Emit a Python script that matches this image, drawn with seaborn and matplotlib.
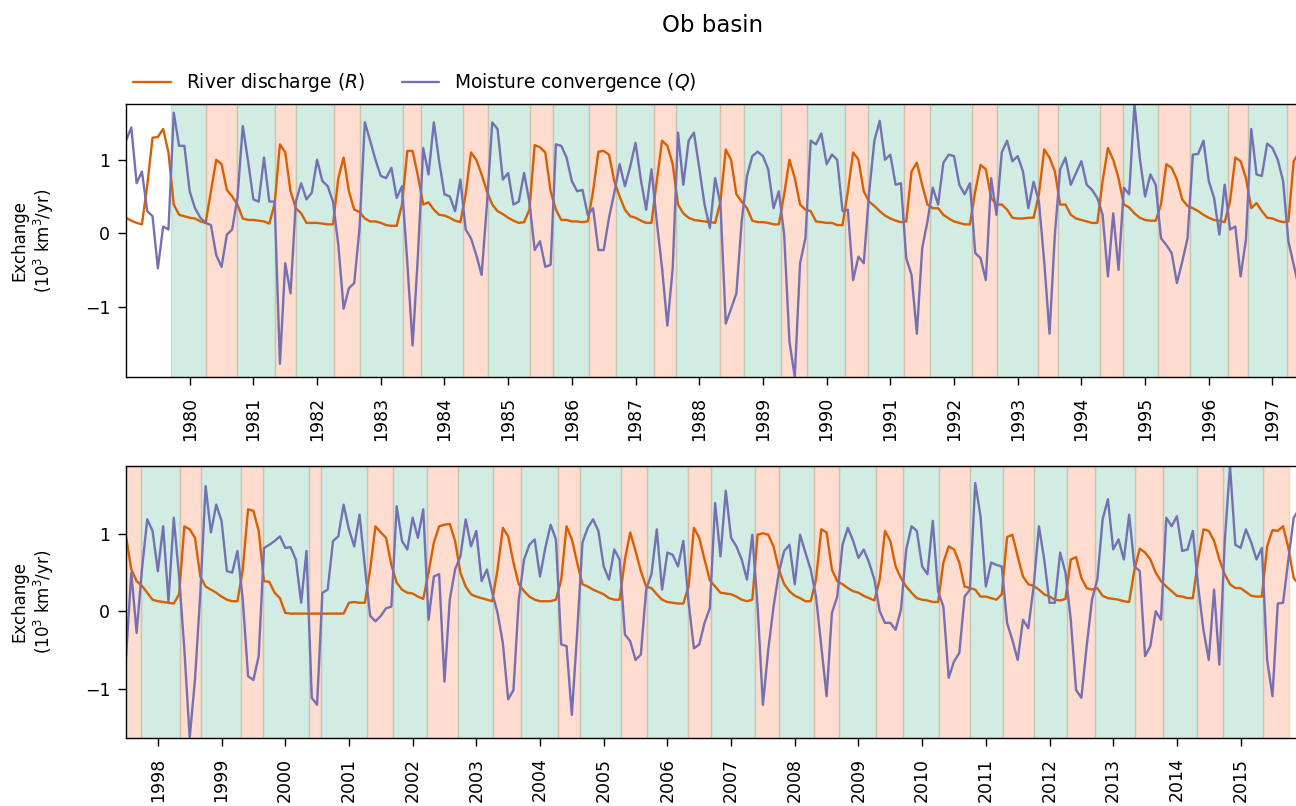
import numpy as np
import pandas as pd
import matplotlib
matplotlib.use("Agg")
import matplotlib.pyplot as plt
from matplotlib.lines import Line2D
import seaborn as sns

# Monthly series for the Ob basin, starting January 1979 (10^3 km^3/yr)
START_YEAR = 1979

discharge_1979_1997 = [
    0.21, 0.17, 0.14, 0.12, 0.65, 1.30, 1.31, 1.42, 1.10, 0.39, 0.25, 0.23,
    0.21, 0.20, 0.16, 0.14, 0.57, 1.00, 0.94, 0.59, 0.50, 0.39, 0.20, 0.18,
    0.18, 0.17, 0.16, 0.13, 0.40, 1.21, 1.10, 0.57, 0.34, 0.27, 0.14, 0.14,
    0.14, 0.13, 0.12, 0.12, 0.75, 1.03, 0.57, 0.32, 0.29, 0.20, 0.16, 0.16,
    0.14, 0.11, 0.10, 0.10, 0.39, 1.12, 1.12, 0.78, 0.39, 0.42, 0.32, 0.25,
    0.24, 0.21, 0.17, 0.15, 0.53, 1.10, 1.00, 0.80, 0.57, 0.39, 0.30, 0.26,
    0.21, 0.17, 0.14, 0.15, 0.32, 1.20, 1.17, 1.10, 0.57, 0.32, 0.18, 0.18,
    0.16, 0.16, 0.15, 0.16, 0.57, 1.11, 1.12, 1.07, 0.71, 0.50, 0.32, 0.23,
    0.21, 0.17, 0.14, 0.14, 0.71, 1.26, 1.19, 0.94, 0.39, 0.27, 0.21, 0.18,
    0.17, 0.16, 0.15, 0.14, 0.43, 1.14, 1.00, 0.53, 0.43, 0.34, 0.17, 0.15,
    0.15, 0.14, 0.12, 0.12, 0.53, 1.00, 0.75, 0.39, 0.32, 0.30, 0.16, 0.15,
    0.14, 0.14, 0.11, 0.11, 0.57, 1.10, 1.00, 0.57, 0.43, 0.37, 0.30, 0.24,
    0.20, 0.17, 0.15, 0.16, 0.84, 0.96, 0.66, 0.39, 0.34, 0.34, 0.25, 0.20,
    0.16, 0.14, 0.12, 0.12, 0.57, 0.93, 0.87, 0.48, 0.39, 0.39, 0.32, 0.21,
    0.20, 0.20, 0.21, 0.21, 0.53, 1.14, 1.03, 0.84, 0.39, 0.39, 0.25, 0.20,
    0.18, 0.16, 0.14, 0.14, 0.71, 1.16, 1.00, 0.75, 0.39, 0.35, 0.27, 0.21,
    0.18, 0.17, 0.17, 0.39, 0.94, 0.89, 0.73, 0.46, 0.37, 0.34, 0.30, 0.25,
    0.21, 0.18, 0.17, 0.15, 0.43, 1.03, 0.98, 0.75, 0.34, 0.41, 0.30, 0.21,
    0.20, 0.17, 0.15, 0.16, 0.98, 1.10,
]

discharge_1997_2015 = [
    0.97, 0.54, 0.39, 0.33, 0.24, 0.15,
    0.13, 0.12, 0.11, 0.10, 0.22, 1.10, 1.06, 0.95, 0.45, 0.32, 0.28, 0.24,
    0.19, 0.15, 0.13, 0.13, 0.54, 1.32, 1.30, 1.04, 0.39, 0.38, 0.24, 0.17,
    -0.02, -0.03, -0.03, -0.03, -0.03, -0.03, -0.03, -0.03, -0.03, -0.03, -0.03, -0.03,
    0.11, 0.12, 0.11, 0.11, 0.54, 1.10, 1.02, 0.95, 0.60, 0.37, 0.28, 0.24,
    0.23, 0.19, 0.16, 0.50, 0.89, 1.10, 1.12, 1.13, 0.91, 0.50, 0.32, 0.22,
    0.19, 0.17, 0.15, 0.13, 0.54, 1.08, 0.97, 0.63, 0.35, 0.26, 0.19, 0.15,
    0.13, 0.13, 0.13, 0.15, 0.41, 1.10, 0.93, 0.63, 0.35, 0.32, 0.28, 0.25,
    0.22, 0.17, 0.15, 0.15, 0.67, 1.02, 0.78, 0.52, 0.32, 0.30, 0.22, 0.15,
    0.12, 0.11, 0.10, 0.10, 0.32, 1.08, 0.95, 0.67, 0.40, 0.32, 0.24, 0.23,
    0.22, 0.19, 0.15, 0.13, 0.15, 0.99, 1.01, 0.99, 0.84, 0.54, 0.35, 0.26,
    0.20, 0.17, 0.13, 0.13, 0.41, 1.06, 1.02, 0.54, 0.39, 0.35, 0.30, 0.26,
    0.24, 0.20, 0.17, 0.14, 0.41, 1.04, 0.91, 0.58, 0.43, 0.32, 0.24, 0.17,
    0.15, 0.14, 0.12, 0.12, 0.63, 0.84, 0.80, 0.63, 0.32, 0.30, 0.28, 0.19,
    0.19, 0.17, 0.15, 0.22, 0.96, 0.99, 0.71, 0.45, 0.35, 0.33, 0.28, 0.22,
    0.19, 0.15, 0.14, 0.16, 0.67, 0.70, 0.43, 0.30, 0.28, 0.30, 0.20, 0.17,
    0.16, 0.15, 0.13, 0.12, 0.54, 0.81, 0.76, 0.67, 0.50, 0.39, 0.32, 0.26,
    0.20, 0.19, 0.17, 0.17, 0.67, 1.06, 1.04, 0.91, 0.67, 0.48, 0.35, 0.30,
    0.30, 0.25, 0.20, 0.19, 0.19, 0.84, 1.05, 1.04, 1.10, 0.82, 0.43, 0.35,
]

convergence_1979_1997 = [
    1.26, 1.44, 0.68, 0.84, 0.30, 0.23, -0.48, 0.09, 0.05, 1.64, 1.19, 1.19,
    0.57, 0.34, 0.21, 0.14, 0.11, -0.30, -0.46, -0.02, 0.05, 0.48, 1.46, 0.98,
    0.46, 0.43, 1.03, 0.43, 0.43, -1.78, -0.41, -0.82, 0.43, 0.68, 0.46, 0.55,
    1.00, 0.71, 0.64, 0.43, -0.16, -1.03, -0.75, -0.68, 0.07, 1.51, 1.26, 1.00,
    0.78, 0.75, 0.89, 0.48, 0.64, -0.40, -1.53, -0.30, 1.16, 0.80, 1.51, 0.98,
    0.53, 0.50, 0.30, 0.73, 0.05, -0.07, -0.30, -0.57, 0.39, 1.51, 1.42, 0.73,
    0.82, 0.39, 0.43, 0.82, 0.43, -0.23, -0.11, -0.46, -0.43, 1.21, 1.19, 1.03,
    0.71, 0.57, 0.59, 0.25, 0.34, -0.23, -0.23, 0.21, 0.55, 0.94, 0.64, 0.91,
    1.23, 0.73, 0.32, 0.87, 0.16, -0.48, -1.26, -0.48, 1.37, 0.66, 1.26, 1.37,
    0.89, 0.39, 0.07, 0.75, 0.39, -1.23, -1.03, -0.82, 0.16, 0.78, 1.05, 1.11,
    1.05, 0.87, 0.34, 0.57, -0.02, -1.48, -1.96, -0.41, -0.07, 1.26, 1.21, 1.36,
    0.94, 1.07, 1.00, 0.30, 0.32, -0.64, -0.32, -0.41, 0.55, 1.26, 1.53, 1.00,
    1.07, 0.66, 0.68, -0.34, -0.57, -1.37, -0.21, 0.16, 0.62, 0.39, 0.96, 1.07,
    1.05, 0.66, 0.53, 0.68, -0.27, -0.34, -0.64, 0.75, 0.25, 1.10, 1.26, 0.98,
    1.05, 0.84, 0.34, 0.70, 0.43, -0.39, -1.37, -0.02, 0.87, 1.03, 0.66, 0.82,
    0.98, 0.66, 0.59, 0.48, 0.25, -0.59, 0.27, -0.50, 0.62, 0.53, 1.76, 1.03,
    0.50, 0.80, 0.66, -0.07, -0.16, -0.27, -0.68, -0.39, -0.07, 1.07, 1.08, 1.26,
    0.71, 0.48, -0.02, 0.66, 0.05, 0.09, -0.59, -0.09, 1.42, 0.80, 0.78, 1.22,
    1.16, 1.00, 0.71, -0.11, -0.43, -0.75,
]

convergence_1997_2015 = [
    -0.60, 0.50, -0.28, 0.54, 1.19, 1.04,
    0.52, 1.10, 0.13, 1.21, 0.45, -0.50, -1.64, -0.88, 0.23, 1.62, 1.02, 1.38,
    1.17, 0.52, 0.50, 0.78, 0.15, -0.84, -0.89, -0.58, 0.82, 0.86, 0.91, 0.97,
    0.82, 0.83, 0.67, 0.11, 0.78, -1.12, -1.21, 0.24, 0.28, 0.91, 0.97, 1.38,
    1.06, 0.84, 1.25, 0.58, -0.06, -0.13, -0.06, 0.04, 0.06, 1.36, 0.91, 0.80,
    1.21, 0.95, 1.32, -0.11, 0.45, 0.48, -0.91, 0.15, 0.54, 0.71, 1.19, 0.84,
    1.04, 0.39, 0.54, 0.24, -0.02, -0.41, -1.14, -1.02, 0.15, 0.67, 0.86, 0.93,
    0.45, 0.82, 1.12, 0.93, -0.43, -0.45, -1.34, -0.28, 0.89, 1.08, 1.19, 1.04,
    0.58, 0.41, 0.80, 0.67, -0.30, -0.39, -0.63, -0.56, 0.28, 0.48, 1.06, 0.28,
    0.76, 0.73, 0.58, 0.91, 0.11, -0.48, -0.43, -0.15, 0.04, 1.40, 0.71, 1.56,
    0.95, 0.84, 0.67, 0.41, 0.99, 0.06, -1.21, -0.50, 0.06, 0.50, 0.78, 0.86,
    0.35, 0.99, 0.76, 0.54, 0.19, -0.45, -1.10, -0.02, 0.19, 0.86, 1.08, 0.91,
    0.69, 0.80, 0.63, 0.41, 0.00, -0.15, -0.15, -0.24, 0.02, 0.80, 1.10, 1.04,
    0.58, 0.48, 1.17, 0.26, 0.06, -0.86, -0.65, -0.54, 0.19, 0.28, 1.66, 1.23,
    0.32, 0.63, 0.60, 0.58, -0.15, -0.37, -0.63, -0.11, -0.22, 0.32, 1.10, 0.67,
    0.11, 0.11, 0.76, 0.50, -0.11, -1.02, -1.12, -0.45, 0.15, 0.41, 1.19, 1.45,
    0.80, 0.93, 0.67, 1.25, 0.58, 0.52, -0.58, -0.45, 0.00, -0.11, 1.21, 1.10,
    1.23, 0.78, 0.80, 1.04, 0.32, -0.24, -0.63, 0.28, -0.69, 0.89, 1.88, 0.86,
    0.82, 1.06, 0.89, 0.67, 0.82, -0.63, -1.10, 0.10, 0.11, 0.67, 1.21, 1.32,
]

series_labels = ["River discharge ($R$)", "Moisture convergence ($Q$)"]
line_colors = ["#d95f02", "#7570b3"]
surplus_color = "#66c2a5"   # Q > R
deficit_color = "#fc8d62"   # R > Q

# ---------------------------------------------------------------- data frame
R = np.array(discharge_1979_1997 + discharge_1997_2015)
Q = np.array(convergence_1979_1997 + convergence_1997_2015)
n = len(R)
year = START_YEAR + np.arange(n) / 12.0
split = len(discharge_1979_1997)
panel = np.where(np.arange(n) < split, 0, 1)

df = pd.concat([
    pd.DataFrame({"year": year, "value": R, "series": series_labels[0], "panel": panel}),
    pd.DataFrame({"year": year, "value": Q, "series": series_labels[1], "panel": panel}),
], ignore_index=True)

# ------------------------------------------- regimes between Q/R crossings
diff = Q - R
crossings = []
for i in range(n - 1):
    if (diff[i] >= 0) != (diff[i + 1] >= 0):
        frac = diff[i] / (diff[i] - diff[i + 1])
        crossings.append((year[i] + frac / 12.0, diff[i + 1] >= 0))

spans = [[a, b, up] for (a, up), (b, _) in zip(crossings[:-1], crossings[1:])]
while spans and not spans[0][2]:
    spans.pop(0)

# fold excursions shorter than ~1.5 months into the surrounding regime
min_len = 1.5 / 12.0
merged = True
while merged:
    merged = False
    for k in range(1, len(spans) - 1):
        if spans[k][1] - spans[k][0] < min_len:
            spans[k - 1][1] = spans[k + 1][1]
            del spans[k:k + 2]
            merged = True
            break

# ------------------------------------------------------------------ figure
sns.set_style("ticks")
plt.rcParams["font.family"] = ["DejaVu Sans"]
plt.rcParams["mathtext.fontset"] = "dejavusans"
plt.rcParams["text.color"] = "black"
plt.rcParams["axes.labelcolor"] = "black"

W, H = 1296, 806
fig = plt.figure(figsize=(W / 100, H / 100), dpi=100)
ax_top = fig.add_axes([126 / W, 1 - 377 / H, 1173 / W, 273 / H])
ax_bot = fig.add_axes([126 / W, 1 - 738 / H, 1173 / W, 272 / H])

palette = dict(zip(series_labels, line_colors))

for p, ax in enumerate([ax_top, ax_bot]):
    for a, b, up in spans:
        ax.axvspan(a, b, color=surplus_color if up else deficit_color,
                   alpha=0.3, zorder=0)
    sub = df[df["panel"] == p]
    sns.lineplot(data=sub, x="year", y="value", hue="series",
                 hue_order=series_labels, palette=palette, ax=ax,
                 legend=False, linewidth=1.7, sort=False, zorder=2)
    x0, x1 = sub["year"].min(), sub["year"].max()
    ax.set_xlim(x0, x1)
    ax.set_ylim(sub["value"].min(), sub["value"].max())
    ticks = np.arange(int(np.floor(x0)) + 1, int(np.floor(x1)) + 1)
    ax.set_xticks(ticks)
    ax.set_xticklabels([str(t) for t in ticks], rotation=90)
    ax.set_yticks([-1, 0, 1])
    ax.set_yticklabels(["\u22121", "0", "1"])
    ax.tick_params(axis="both", labelsize=12.5, direction="out",
                   length=5.8, width=1.0, colors="black")
    ax.tick_params(axis="x", pad=8.3)
    ax.tick_params(axis="y", pad=5.5)
    ax.set_xlabel("")
    ax.set_ylabel("Exchange\n(10$^3$ km$^3$/yr)", fontsize=12, color="black")
    ax.yaxis.set_label_coords(-0.0595, 0.5)
    for s in ax.spines.values():
        s.set_color("black")
        s.set_linewidth(1.0)

handles = [Line2D([], [], color=c, lw=1.7) for c in line_colors]
leg = ax_top.legend(handles, series_labels, loc="lower left",
                    bbox_to_anchor=(0, 1.009), borderaxespad=0.0, ncol=2,
                    frameon=False, fontsize=13.4)
for txt in leg.get_texts():
    txt.set_color("black")

fig.suptitle("Ob basin", x=713 / W, y=1 - 25 / H, va="center",
             fontsize=16.5, color="black")

fig.savefig("out.png", dpi=100)
